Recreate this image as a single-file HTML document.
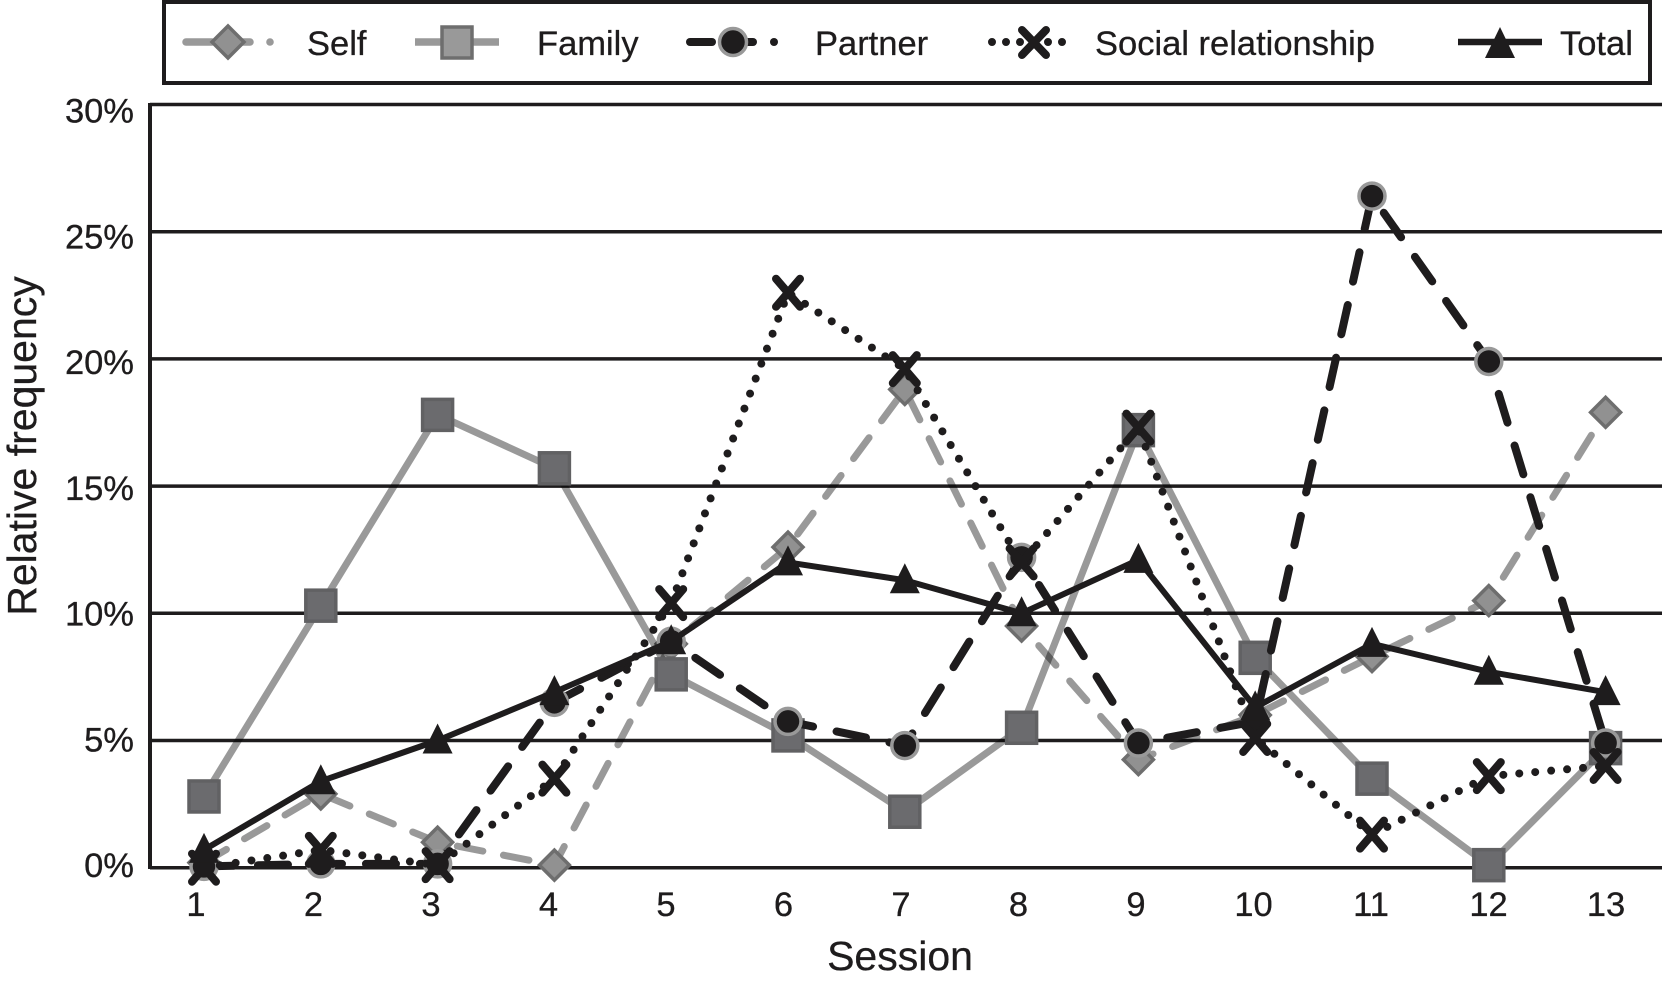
<!DOCTYPE html>
<html lang="en">
<head>
<meta charset="utf-8">
<title>Relative frequency by session</title>
<style>
html,body{margin:0;padding:0;background:#fff;width:1662px;height:990px;overflow:hidden}
svg{display:block}
text{font-family:"Liberation Sans",sans-serif;fill:#1e1c1d;stroke:#1e1c1d;stroke-width:0.3}
</style>
</head>
<body>
<svg id="chart" xmlns="http://www.w3.org/2000/svg" width="1662" height="990" viewBox="0 0 1662 990">
  <g id="grid"></g>
  <line x1="150" y1="103" x2="150" y2="869" stroke="#1e1c1d" stroke-width="4"/>
  <g id="ylabels" font-size="34.5" text-anchor="end"></g>
  <g id="xlabels" font-size="34.5" text-anchor="middle"></g>
  <text font-size="41" text-anchor="middle" transform="translate(36,446) rotate(-90)">Relative frequency</text>
  <text font-size="41" text-anchor="middle" x="900" y="970">Session</text>
  <g id="series"></g>

  <g>
    <rect x="164" y="2" width="1486" height="81" fill="#fff" stroke="#1e1c1d" stroke-width="4"/>
    <g>
      <line x1="186" y1="42" x2="212" y2="42" stroke="#999" stroke-width="7.5" stroke-linecap="round"/>
      <line x1="240" y1="42" x2="250" y2="42" stroke="#999" stroke-width="7.5" stroke-linecap="round"/>
      <circle cx="270" cy="42" r="3.8" fill="#999"/>
      <polygon points="228,26 244,42 228,58 212,42" fill="#919191" stroke="#6e6e6e" stroke-width="3.5"/>
      <text x="307" y="55" font-size="34.5">Self</text>
    </g>
    <g>
      <line x1="415" y1="42" x2="499" y2="42" stroke="#999" stroke-width="7.5"/>
      <rect x="442" y="27" width="30" height="31" fill="#999" stroke="#6e6e6e" stroke-width="3.5"/>
      <text x="537" y="55" font-size="34.5">Family</text>
    </g>
    <g>
      <line x1="690" y1="42" x2="712" y2="42" stroke="#1e1c1d" stroke-width="8" stroke-linecap="round"/>
      <line x1="745" y1="42" x2="753" y2="42" stroke="#1e1c1d" stroke-width="8" stroke-linecap="round"/>
      <circle cx="774" cy="42" r="4" fill="#1e1c1d"/>
      <circle cx="733" cy="42" r="13.5" fill="#1e1c1d" stroke="#999" stroke-width="3.5"/>
      <text x="815" y="55" font-size="34.5">Partner</text>
    </g>
    <g>
      <line x1="992" y1="42" x2="1076" y2="42" stroke="#1e1c1d" stroke-width="8" stroke-linecap="round" stroke-dasharray="0 14"/>
      <path d="M1022 30 L1046 55 M1046 30 L1022 55" stroke="#1e1c1d" stroke-width="8" stroke-linecap="round" fill="none"/>
      <text x="1095" y="55" font-size="34.5">Social relationship</text>
    </g>
    <g>
      <line x1="1458" y1="42" x2="1542" y2="42" stroke="#1e1c1d" stroke-width="6.5"/>
      <polygon points="1500,27 1515,58 1485,58" fill="#1e1c1d"/>
      <text x="1560" y="55" font-size="34.5">Total</text>
    </g>
  </g>
</svg>
<script>
const sessions = ["1","2","3","4","5","6","7","8","9","10","11","12","13"];
const yTicks = [0,5,10,15,20,25,30];
const selfValues = [0.2,2.9,1.0,0.1,8.8,12.6,18.8,9.5,4.25,6.0,8.3,10.5,17.9];
const familyValues = [2.8,10.3,17.8,15.7,7.6,5.2,2.2,5.5,17.2,8.25,3.5,0.1,4.7];
const partnerValues = [0.05,0.15,0.15,6.5,8.9,5.75,4.8,12.2,4.9,5.75,26.4,19.9,4.9];
const socialValues = [0,0.7,0.1,3.5,10.4,22.6,19.6,12,17.3,5.1,1.3,3.6,4.0];
const totalValues = [0.7,3.4,5.0,6.9,8.9,12,11.3,10,12.1,6.3,8.8,7.7,6.9];

const NS = 'http://www.w3.org/2000/svg';
function xScale(i){ return 204 + i * 116.8; }
function yScale(v){ return 867.7 - v * 25.44; }
function xLabelScale(i){ return 196 + i * 117.5; }
function yLabelScale(v){ return 877 - v * 25.15; }

function make(tag, attrs, parent){
  const el = document.createElementNS(NS, tag);
  for (const k in attrs) el.setAttribute(k, attrs[k]);
  parent.appendChild(el);
  return el;
}

const gridG = document.getElementById('grid');
const yLabG = document.getElementById('ylabels');
const xLabG = document.getElementById('xlabels');
const seriesG = document.getElementById('series');

yTicks.forEach(function(t){
  const ln = make('line', {x1:150, x2:1662, y1:yScale(t), y2:yScale(t), stroke:'#1e1c1d', 'stroke-width':3.5}, gridG);
  
  
  const tx = make('text', {x:134, y:yLabelScale(t)}, yLabG);
  tx.textContent = t + '%';
  
  
});

sessions.forEach(function(s, i){
  const tx = make('text', {x:xLabelScale(i), y:916}, xLabG);
  tx.textContent = s;
  
  
});

function drawLine(name, values, stroke, width, dash, blend){
  const pts = values.map(function(v, i){ return xScale(i) + ',' + yScale(v); }).join(' ');
  const attrs = {points:pts, fill:'none', stroke:stroke, 'stroke-width':width, 'stroke-linejoin':'round'};
  if (dash) { attrs['stroke-dasharray'] = dash; attrs['stroke-linecap'] = 'round'; }
  if (blend) attrs.style = 'mix-blend-mode:multiply';
  const pl = make('polyline', attrs, seriesG);
  
  
}

function drawMarkers(name, values, fn){
  values.forEach(function(v, i){
    const m = fn(xScale(i), yScale(v));
    
    
  });
}

drawLine('self', selfValues, '#999', 7, '26 21', true);
drawMarkers('self', selfValues, function(x, y){
  return make('polygon', {points:[x,y-15,x+15,y,x,y+15,x-15,y].join(','), fill:'#919191', stroke:'#6e6e6e', 'stroke-width':3.5}, seriesG);
});

drawLine('family', familyValues, '#999', 7, null, true);
drawMarkers('family', familyValues, function(x, y){
  return make('rect', {x:x-15, y:y-15.5, width:30, height:31, fill:'#6b6b6e', stroke:'#616163', 'stroke-width':3.5}, seriesG);
});

drawLine('partner', partnerValues, '#1e1c1d', 8, '30 24');
drawMarkers('partner', partnerValues, function(x, y){
  return make('circle', {cx:x, cy:y, r:13, fill:'#1e1c1d', stroke:'#999', 'stroke-width':3.5}, seriesG);
});

drawLine('social', socialValues, '#1e1c1d', 8, '0 16');
drawMarkers('social', socialValues, function(x, y){
  return make('path', {d:'M'+(x-12)+' '+(y-14)+' L'+(x+12)+' '+(y+14)+' M'+(x+12)+' '+(y-14)+' L'+(x-12)+' '+(y+14), fill:'none', stroke:'#1e1c1d', 'stroke-width':8, 'stroke-linecap':'round'}, seriesG);
});

drawLine('total', totalValues, '#1e1c1d', 6);
drawMarkers('total', totalValues, function(x, y){
  return make('polygon', {points:[x,y-17,x+15,y+13,x-15,y+13].join(','), fill:'#1e1c1d'}, seriesG);
});
</script>
</body>
</html>
